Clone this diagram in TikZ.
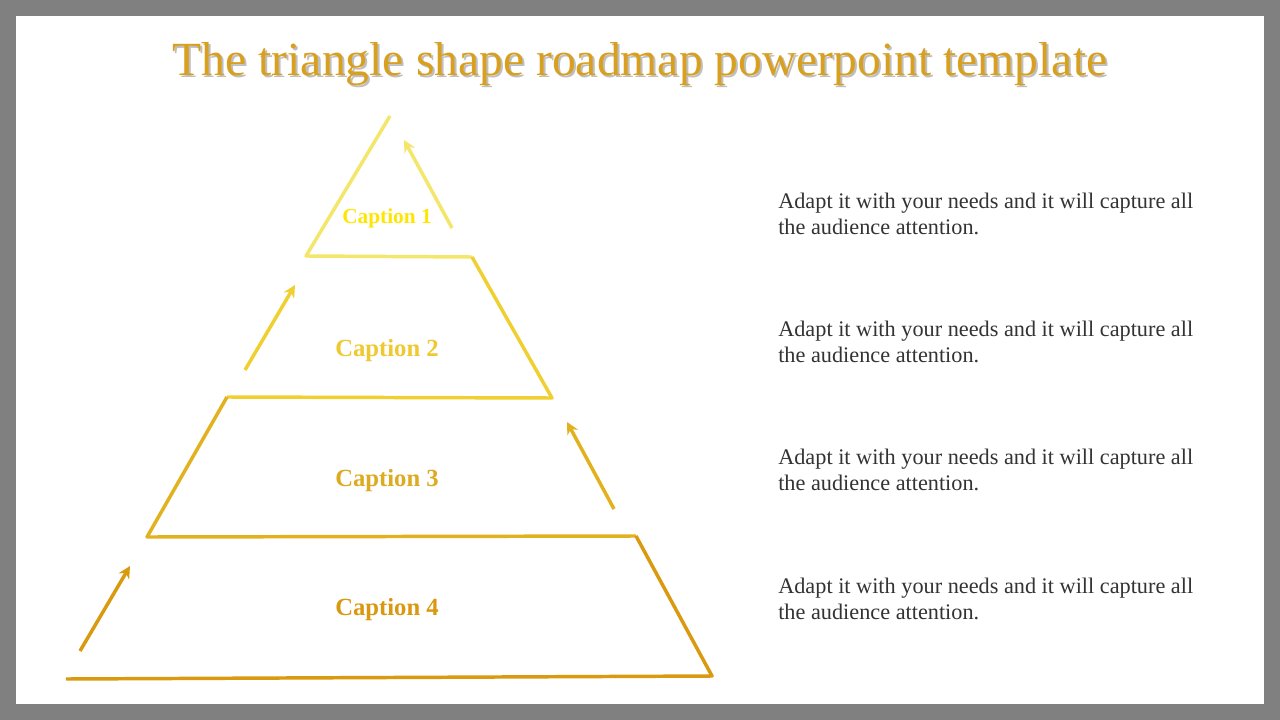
\documentclass[tikz,border=0pt]{standalone}
\usepackage{fontspec}
\setmainfont{Liberation Serif}
\usetikzlibrary{arrows.meta}
\definecolor{cA}{HTML}{F3E66B}
\definecolor{cB}{HTML}{F0D030}
\definecolor{cC}{HTML}{E2B21E}
\definecolor{cD}{HTML}{D99A10}
\definecolor{tA}{HTML}{FFE600}
\definecolor{tB}{HTML}{F0C830}
\definecolor{tC}{HTML}{DDAA20}
\definecolor{tD}{HTML}{D9980F}
\definecolor{title}{HTML}{D9A020}
\definecolor{body}{HTML}{333333}
\tikzset{seg/.style={line width=2.6pt,line join=round},
 arr/.style={line width=2.6pt,-{Stealth[length=9pt,width=9pt]}},
 captext/.style={font=\bfseries\fontsize{18.5}{22}\selectfont},
 desc/.style={anchor=north west,align=left,text=body,font=\fontsize{16.7}{19}\selectfont,inner sep=0pt}}
\begin{document}
\begin{tikzpicture}[x=0.75pt,y=-0.75pt]
\useasboundingbox (0,0) rectangle (1280,720);
\fill[black!50] (0,0) rectangle (1280,720);
\fill[white] (16,16) rectangle (1264,704);
\node[text=black!25] at (642,66) {\fontsize{35.7}{40}\selectfont The triangle shape roadmap powerpoint template};
\node[text=title] (t) at (640,64) {\fontsize{35.7}{40}\selectfont The triangle shape roadmap powerpoint template};
\coordinate (p0) at (390,116);
\coordinate (p1) at (306,256);
\coordinate (p2) at (472,257);
\coordinate (p3) at (552,398);
\coordinate (p4) at (227,397);
\coordinate (p5) at (147,537);
\coordinate (p6) at (636,536);
\coordinate (p7) at (712,676);
\coordinate (p8) at (66,679);
\draw[seg,cA] (p0) -- (p1) -- (p2);
\draw[seg,cB] (p2) -- (p3) -- (p4);
\draw[seg,cC] (p4) -- (p5) -- (p6);
\draw[seg,cD] (p6) -- (p7) -- (p8);
\coordinate (a1) at (452,228); \coordinate (b1) at (404,140);
\coordinate (a2) at (245,370); \coordinate (b2) at (295,285);
\coordinate (a3) at (614,509); \coordinate (b3) at (567,422);
\coordinate (a4) at (80,651); \coordinate (b4) at (130,566);
\draw[arr,cA] (a1) -- (b1);
\draw[arr,cB] (a2) -- (b2);
\draw[arr,cC] (a3) -- (b3);
\draw[arr,cD] (a4) -- (b4);
\node[captext,text=tA,font=\bfseries\fontsize{16}{19}\selectfont] (c1) at (387,218) {Caption 1};
\node[captext,text=tB] (c2) at (387,351) {Caption 2};
\node[captext,text=tC] (c3) at (387,481) {Caption 3};
\node[captext,text=tD] (c4) at (387,610) {Caption 4};
\node[desc] (d1) at (778,193) {Adapt it with your needs and it will capture all\\the audience attention.};
\node[desc] (d2) at (778,321) {Adapt it with your needs and it will capture all\\the audience attention.};
\node[desc] (d3) at (778,449) {Adapt it with your needs and it will capture all\\the audience attention.};
\node[desc] (d4) at (778,578) {Adapt it with your needs and it will capture all\\the audience attention.};
\end{tikzpicture}
\end{document}
